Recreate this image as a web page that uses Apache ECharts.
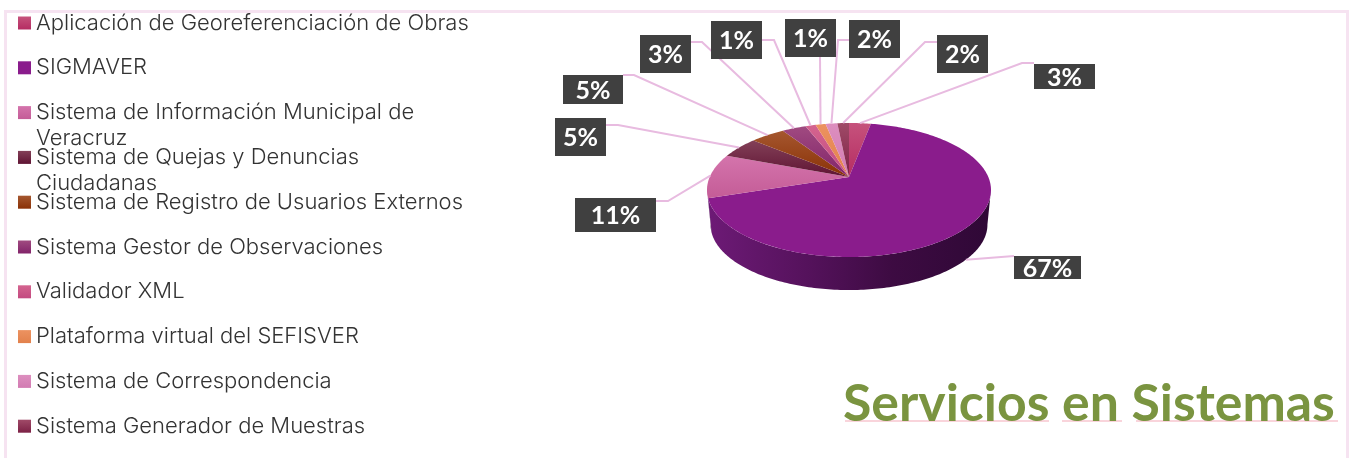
<!DOCTYPE html>
<html>
<head>
<meta charset="utf-8">
<title>Servicios en Sistemas</title>
<script src="https://cdn.jsdelivr.net/npm/echarts@6/dist/echarts.min.js"></script>
<style>
  html, body { margin: 0; padding: 0; background: #fff; }
  #main { width: 1352px; height: 458px; }
</style>
</head>
<body>
<div id="main"></div>
<script>
const categories = [
  'Aplicación de Georeferenciación de Obras',
  'SIGMAVER',
  'Sistema de Información Municipal de\nVeracruz',
  'Sistema de Quejas y Denuncias\nCiudadanas',
  'Sistema de Registro de Usuarios Externos',
  'Sistema Gestor de Observaciones',
  'Validador XML',
  'Plataforma virtual del SEFISVER',
  'Sistema de Correspondencia',
  'Sistema Generador de Muestras'
];
// the labels show them rounded
const percents = [3, 67, 10.7, 5.3, 4.7, 3.3, 1.4, 1.4, 1.6, 1.6];
// rim colour, apex colour
const sliceColors = [
  ['#c6527c', '#b52c62'],
  ['#8a1c8c', '#8a1c8c'],
  ['#d474ac', '#c45c97'],
  ['#834058', '#5f1433'],
  ['#a5572f', '#8a3106'],
  ['#a04a80', '#82246a'],
  ['#d4648f', '#c34a80'],
  ['#ec9260', '#e2814c'],
  ['#dd8fbf', '#d27bb2'],
  ['#a04a68', '#7c2145']
];
// label box [x, y, w, h], elbow and end of the leader line
const labelBoxes = [
  [1034, 64, 61, 25],
  [1014, 256, 67, 23],
  [575, 198, 81, 34],
  [555, 118, 51, 38],
  [563, 75, 60, 29],
  [640, 35, 51, 38],
  [711, 21, 51, 38],
  [785, 19, 51, 38],
  [849, 20, 51, 38],
  [937, 35, 51, 38]
];
const leaderBends = [
  [[1022, 63], [1034, 63]],
  [[1014, 256], [1014, 256]],
  [[668, 201], [656, 201]],
  [[618, 125], [606, 125]],
  [[634, 75], [623, 75]],
  [[702, 42], [691, 42]],
  [[774, 40], [762, 40]],
  [[820, 57], [820, 57]],
  [[838, 40], [849, 40]],
  [[925, 42], [937, 42]]
];

const pie = { cx: 849, cy: 177, ax: 139.3, ay: 64.5, b: 0.194, shrink: 0.975, drop: 35 };
const total = percents.reduce((a, b) => a + b, 0);
const chart = echarts.init(document.getElementById('main'));

// angle in degrees, clockwise from the top, on the tilted disc
function rim(deg, bottom) {
  const r = deg * Math.PI / 180;
  const u = Math.sin(r);
  const v = Math.cos(r);
  const d = 1 + pie.b * v;
  const s = bottom ? pie.shrink : 1;
  return [
    pie.cx + s * pie.ax * u / d,
    pie.cy - s * pie.ay * v / d + (bottom ? pie.drop : 0)
  ];
}

function arc(from, to, bottom) {
  const pts = [];
  const steps = Math.max(2, Math.ceil(to - from));
  for (let i = 0; i <= steps; i++) {
    pts.push(rim(from + (to - from) * i / steps, bottom));
  }
  return pts;
}

function vertical(c) {
  return new echarts.graphic.LinearGradient(0, 0, 0, 1, [
    { offset: 0, color: c[0] },
    { offset: 1, color: c[1] }
  ]);
}

function renderSlice(params, api) {
  const i = params.seriesIndex;
  const before = percents.slice(0, i).reduce((a, b) => a + b, 0);
  const start = before / total * 360;
  const end = (before + api.value(0)) / total * 360;
  const mid = (start + end) / 2;
  const children = [];

  // only the front of the wall can be seen
  const wallFrom = Math.max(start, 101);
  const wallTo = Math.min(end, 259);
  if (wallFrom < wallTo) {
    children.push({
      type: 'polygon',
      shape: { points: arc(wallFrom, wallTo, false).concat(arc(wallFrom, wallTo, true).reverse()) },
      style: {
        fill: new echarts.graphic.LinearGradient(1, 0, 0, 0, [
          { offset: 0, color: '#2f0836' },
          { offset: 0.35, color: '#3d0b42' },
          { offset: 0.65, color: '#55125c' },
          { offset: 1, color: '#6d1a76' }
        ])
      },
      z2: 1
    });
  }

  children.push({
    type: 'polygon',
    shape: { points: [[pie.cx, pie.cy]].concat(arc(start, end, false)) },
    style: { fill: vertical(sliceColors[i]) },
    z2: 2
  });

  const front = mid > 101 && mid < 259;
  const box = labelBoxes[i];
  const bends = leaderBends[i];
  children.push({
    type: 'polyline',
    shape: { points: [rim(mid, front)].concat(bends) },
    style: { stroke: '#e8bbe0', lineWidth: 2, fill: 'none' },
    z2: 3
  });
  children.push({
    type: 'rect',
    shape: { x: box[0], y: box[1], width: box[2], height: box[3] },
    style: { fill: '#404040' },
    z2: 4
  });
  children.push({
    type: 'text',
    style: {
      x: box[0] + box[2] / 2,
      y: box[1] + box[3] / 2 + 1,
      text: Math.round(api.value(0)) + '%',
      fill: '#fff',
      font: 'bold 25px Lato',
      align: 'center',
      verticalAlign: 'middle'
    },
    z2: 5
  });
  return { type: 'group', children: children };
}

// one legend per entry: the rows keep an even step even when the name wraps,
// and the blank first line keeps the swatch beside the first text line
const legends = categories.map((name, i) => {
  const wrapped = name.indexOf('\n') > -1;
  return {
    show: true,
    selectedMode: false,
    orient: 'vertical',
    left: 18,
    top: 23 + i * 44.8 - (wrapped ? 39 : 13),
    itemWidth: 13,
    itemHeight: 13,
    icon: 'rect',
    padding: 0,
    data: [name],
    formatter: wrapped ? ' \n' + name : name,
    textStyle: { color: '#333', fontFamily: 'Inter', fontWeight: 300, fontSize: 22, lineHeight: 26 }
  };
});

chart.setOption({
  animation: false,
  backgroundColor: '#fff',
  title: {
    text: 'Servicios en Sistemas',
    left: 843,
    top: 378,
    padding: 0,
    textStyle: { color: '#7a9440', fontFamily: 'Lato', fontWeight: 'bold', fontSize: 51.8 }
  },
  legend: legends,
  graphic: [
    {
      type: 'polyline',
      silent: true,
      shape: { points: [[5.5, 458], [5.5, 11.5], [1347.5, 11.5], [1347.5, 458]] },
      style: { stroke: '#f6e3f1', lineWidth: 3, fill: 'none' }
    },
    { type: 'line', shape: { x1: 845, y1: 421, x2: 1049, y2: 421 }, style: { stroke: '#f7c6cf', lineWidth: 1.5 } },
    { type: 'line', shape: { x1: 1062, y1: 421, x2: 1122, y2: 421 }, style: { stroke: '#f7c6cf', lineWidth: 1.5 } },
    { type: 'line', shape: { x1: 1136, y1: 421, x2: 1338, y2: 421 }, style: { stroke: '#f7c6cf', lineWidth: 1.5 } }
  ],
  series: categories.map((name, i) => ({
    type: 'custom',
    name: name,
    coordinateSystem: 'none',
    itemStyle: { color: vertical(sliceColors[i]) },
    renderItem: renderSlice,
    data: [[percents[i]]]
  }))
});
</script>
</body>
</html>
